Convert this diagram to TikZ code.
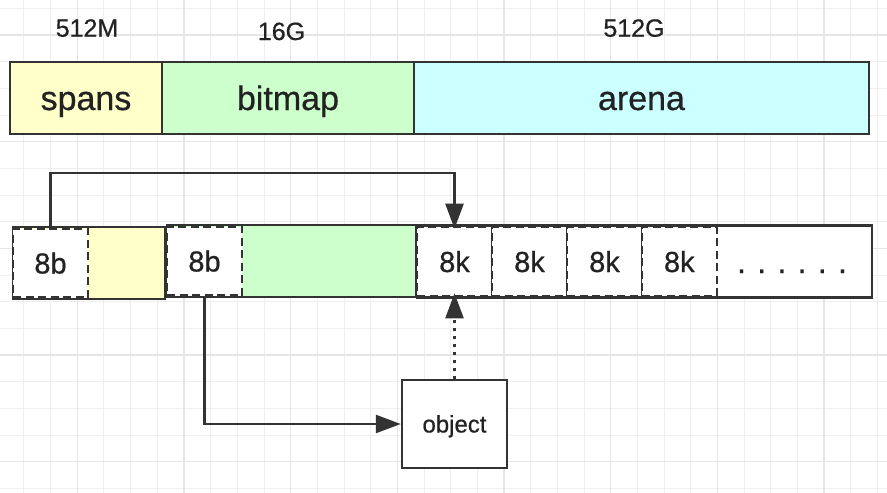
\documentclass[tikz,border=0pt]{standalone}
\usepackage{fontspec}
\setmainfont{Liberation Sans}[FakeBold=0.6]
\usetikzlibrary{arrows.meta}
\definecolor{spanY}{HTML}{FFFFCA}
\definecolor{bitG}{HTML}{CCFFCC}
\definecolor{arenaC}{HTML}{CCFFFF}
\definecolor{ink}{HTML}{333333}
\definecolor{txt}{HTML}{222222}
\definecolor{gridminor}{HTML}{EFEFEF}
\definecolor{gridmajor}{HTML}{E6E6E6}
\begin{document}
\begin{tikzpicture}[x=1pt,y=-1pt,
  bar/.style={draw=ink, line width=2.6pt, inner sep=0pt, minimum height=72pt,
    text=txt, font=\fontsize{34}{40}\selectfont, text height=24pt, text depth=0pt},
  lbl/.style={inner sep=0pt, anchor=base, text=txt, font=\fontsize{25}{30}\selectfont},
  grp/.style={draw=ink, line width=2.6pt, inner sep=0pt, minimum height=72pt},
  cell/.style={draw=ink, line width=2.6pt, dash pattern=on 8pt off 4.5pt, fill=white,
    inner sep=0pt, minimum width=75pt, minimum height=69pt,
    text=txt, font=\fontsize{29}{34}\selectfont, text height=21pt, text depth=0pt},
  objbox/.style={draw=ink, line width=2.4pt, fill=white, inner sep=0pt,
    minimum width=105pt, minimum height=88pt,
    text=txt, font=\fontsize{24}{28}\selectfont, text height=17pt, text depth=0pt},
  arr/.style={draw=ink, line width=2.4pt, -{Triangle[length=25pt,width=18pt]}},
  dotline/.style={dash pattern=on 2.5pt off 5.5pt}
]
\useasboundingbox (0,0) rectangle (887,493);
\fill[white] (0,0) rectangle (887,493);
% grid
\foreach \k in {0,...,34}
  \draw[gridminor, line width=1pt] ({-2.67+26.667*\k},0) -- ({-2.67+26.667*\k},493);
\foreach \k in {0,...,18}
  \draw[gridminor, line width=1pt] (0,{8.33+26.667*\k}) -- (887,{8.33+26.667*\k});
\foreach \k in {0,...,7}
  \draw[gridmajor, line width=1.2pt] ({77.33+106.667*\k},0) -- ({77.33+106.667*\k},493);
\foreach \k in {0,...,4}
  \draw[gridmajor, line width=1.2pt] (0,{35+106.667*\k}) -- (887,{35+106.667*\k});

% size labels
\node[lbl] (l512m) at (87,36.7) {512M};
\node[lbl] (l16g) at (281.5,40) {16G};
\node[lbl] (l512g) at (634,36.7) {512G};

% top bar
\node[bar, fill=spanY, minimum width=152pt] (spans) at (86,98) {spans};
\node[bar, fill=bitG, minimum width=252pt] (bitmap) at (288,98) {bitmap};
\node[bar, fill=arenaC, minimum width=455pt] (arena) at (641.5,98) {arena};

% second row
\node[grp, fill=spanY, minimum width=152pt] (g1) at (89,263) {};
\node[cell] (b1) at (50.5,263) {8b};
\node[grp, fill=bitG, minimum width=249pt] (g2) at (291.5,261) {};
\node[cell] (b2) at (204.5,261) {8b};
\node[grp, fill=white, minimum width=455pt] (g3) at (644.5,261.5) {};
\node[cell] (k1) at (454.5,261.5) {8k};
\node[cell] (k2) at (529.5,261.5) {8k};
\node[cell] (k3) at (604.5,261.5) {8k};
\node[cell] (k4) at (679.3,261.5) {8k};
\node[inner sep=0pt, anchor=base, text=txt, font=\fontsize{32}{36}\selectfont] (dots) at (792,273)
  {.\kern11.3pt.\kern11.3pt.\kern11.3pt.\kern11.3pt.\kern11.3pt.};

% object
\node[objbox] (obj) at (454.5,424) {object};

% connectors
\coordinate (topline) at (0,173);
\draw[arr] (b1.north) -- (b1.north |- topline) -| ([yshift=-3pt]k1.north);
\draw[arr] (b2.south) |- (obj.west);
\draw[arr, dotline] (obj.north) -- ([yshift=4pt]k1.south);
\end{tikzpicture}
\end{document}
